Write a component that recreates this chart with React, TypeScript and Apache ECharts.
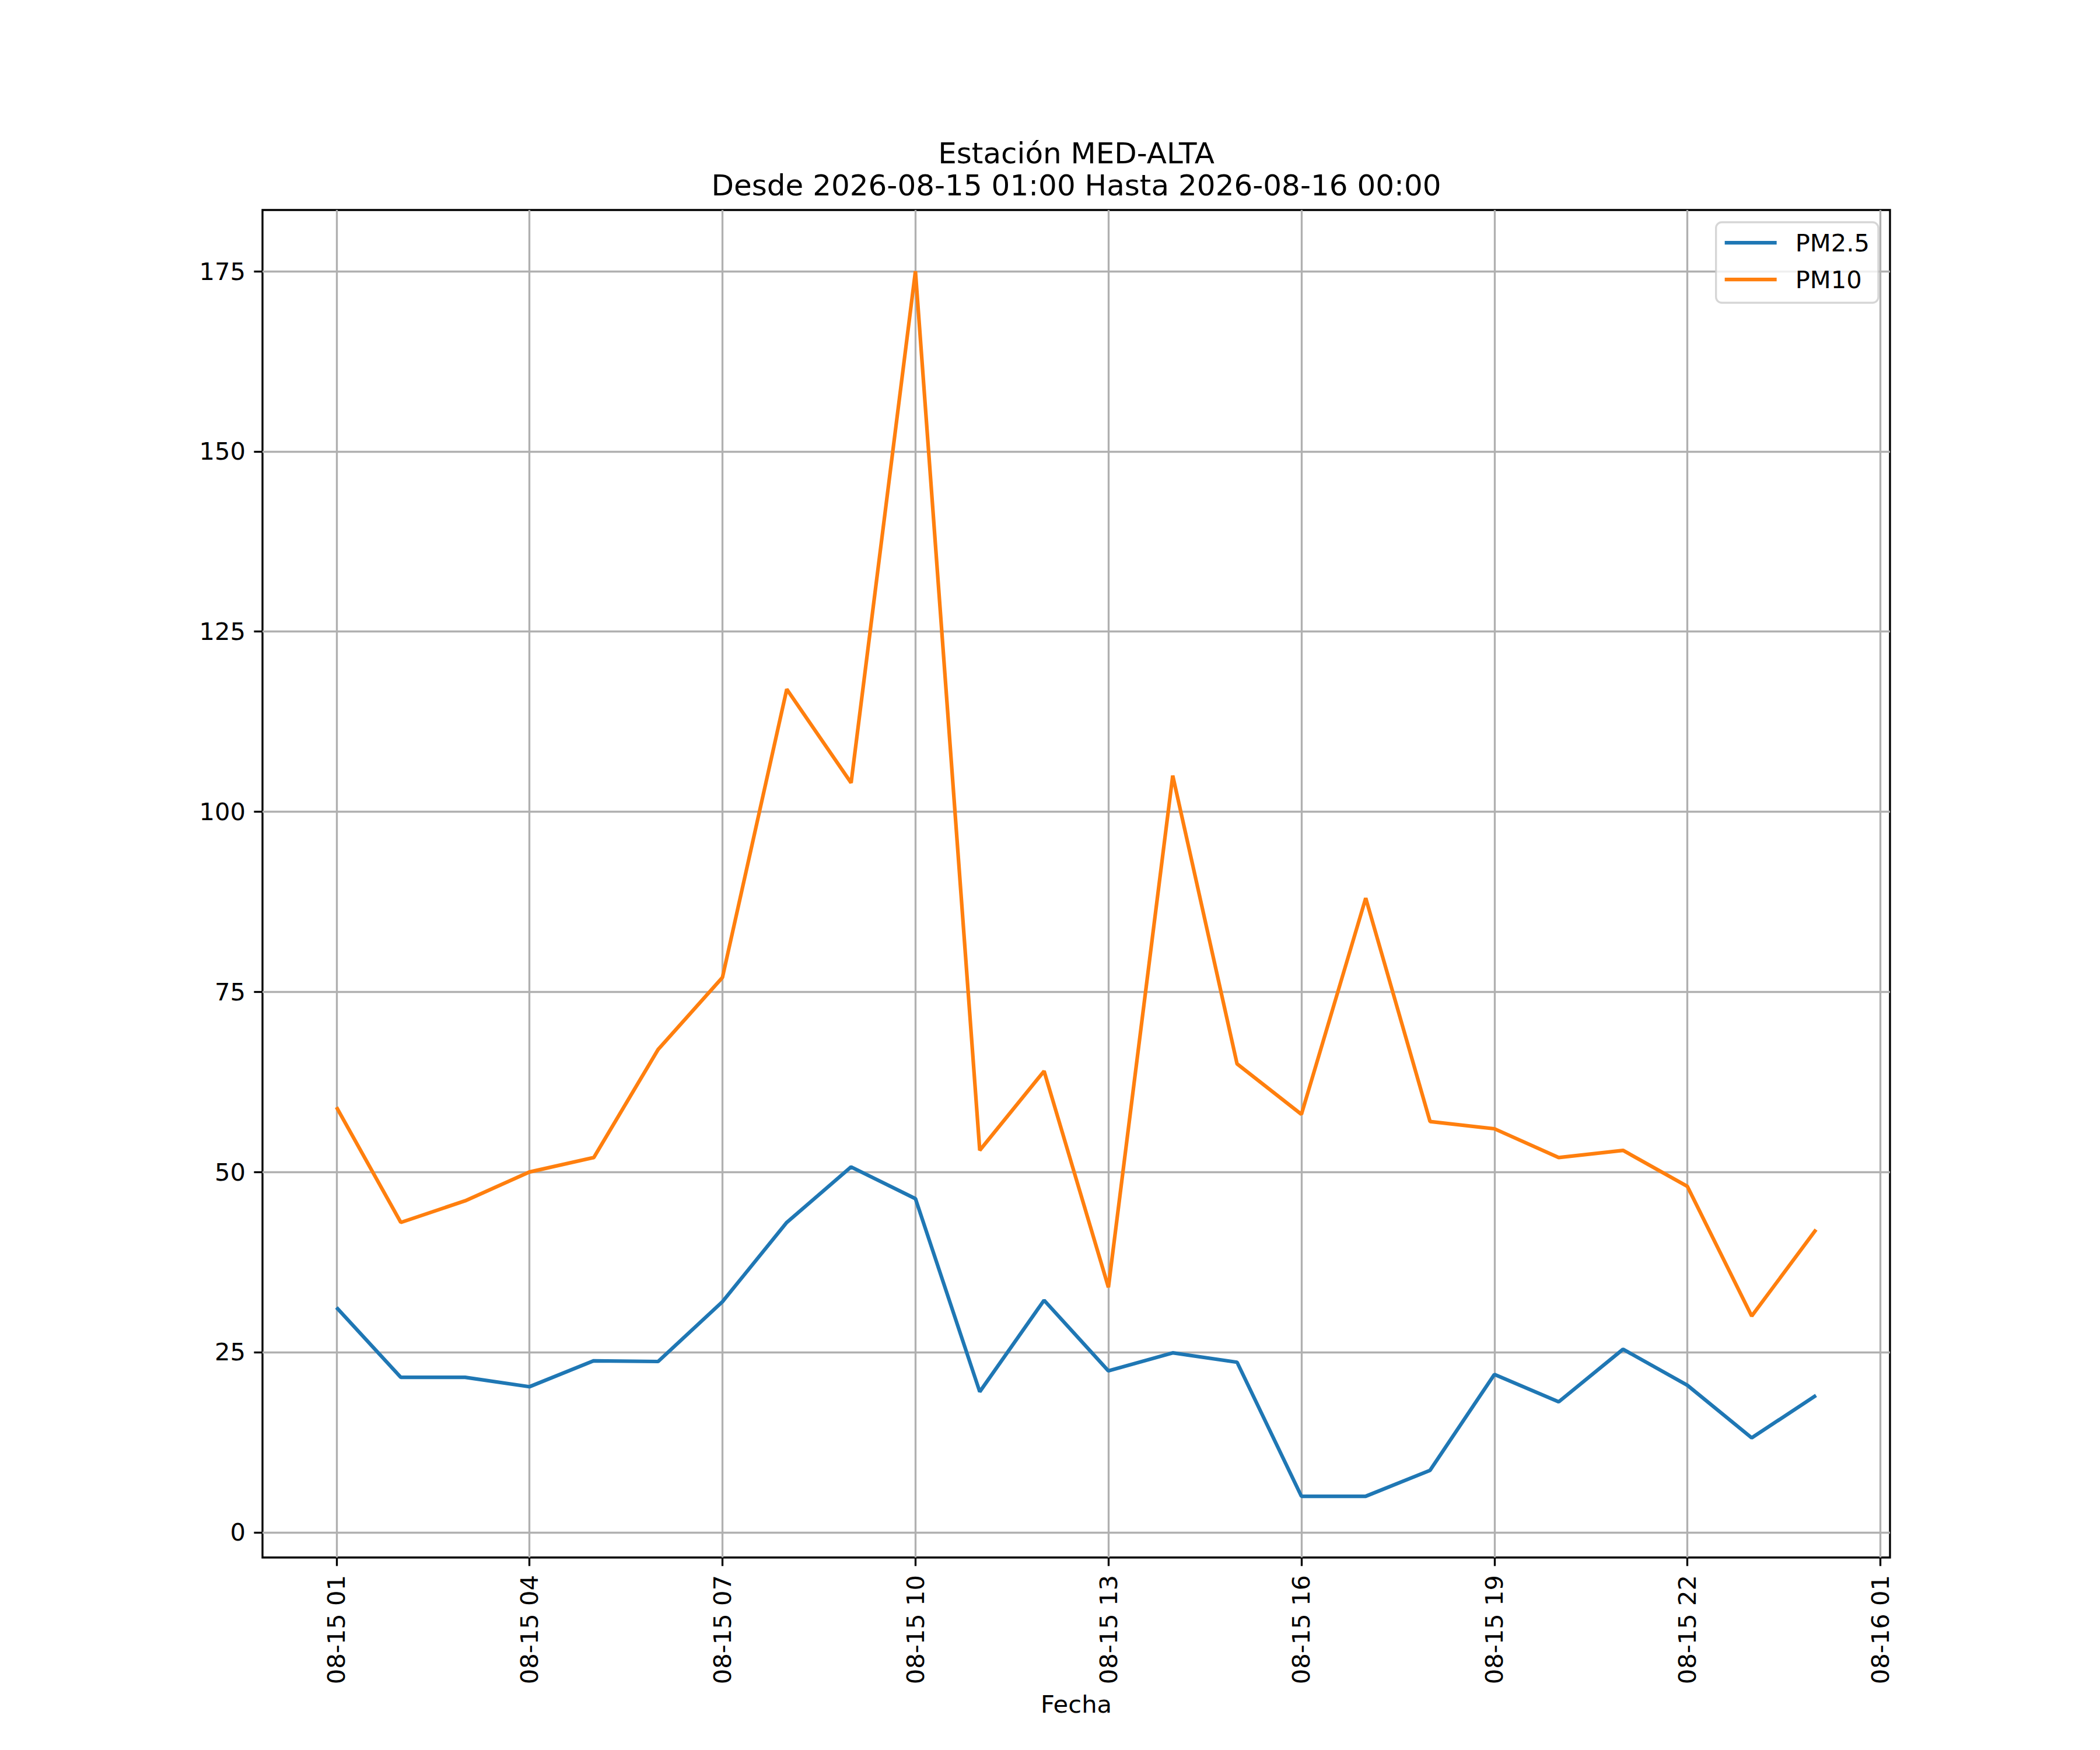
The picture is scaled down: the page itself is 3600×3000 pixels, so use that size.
import React, { useEffect, useRef } from 'react';
import * as echarts from 'echarts';

// Horas de medición (una por hora)
const horas = [
  '2026-08-15 01:00', '2026-08-15 02:00', '2026-08-15 03:00', '2026-08-15 04:00',
  '2026-08-15 05:00', '2026-08-15 06:00', '2026-08-15 07:00', '2026-08-15 08:00',
  '2026-08-15 09:00', '2026-08-15 10:00', '2026-08-15 11:00', '2026-08-15 12:00',
  '2026-08-15 13:00', '2026-08-15 14:00', '2026-08-15 15:00', '2026-08-15 16:00',
  '2026-08-15 17:00', '2026-08-15 18:00', '2026-08-15 19:00', '2026-08-15 20:00',
  '2026-08-15 21:00', '2026-08-15 22:00', '2026-08-15 23:00', '2026-08-16 00:00'
];

const pm25 = [
  31.2, 21.5, 21.5, 20.2, 23.8, 23.7, 32.0, 43.0, 50.7, 46.3, 19.5, 32.2,
  22.4, 24.9, 23.6, 5.0, 5.0, 8.6, 21.9, 18.1, 25.4, 20.4, 13.1, 19.0
];

const pm10 = [
  59, 43, 46, 50, 52, 67, 77, 117, 104, 175, 53, 64,
  34, 105, 65, 58, 88, 57, 56, 52, 53, 48, 30, 42
];

// Marcas del eje X
const ticksX = [
  '2026-08-15 01:00', '2026-08-15 04:00', '2026-08-15 07:00', '2026-08-15 10:00',
  '2026-08-15 13:00', '2026-08-15 16:00', '2026-08-15 19:00', '2026-08-15 22:00',
  '2026-08-16 01:00'
];

const ticksY = [0, 25, 50, 75, 100, 125, 150, 175];

const titulo = 'Estación MED-ALTA';
const subtitulo = 'Desde 2026-08-15 01:00 Hasta 2026-08-16 00:00';

// horas desde 2026-08-15 00:00
const aHoras = (s: string) =>
  (Number(s.slice(8, 10)) - 15) * 24 + Number(s.slice(11, 13));

const FONT = 'DejaVu Sans';
const PT = 300 / 72;

const App = () => {
  const chartRef = useRef<HTMLDivElement | null>(null);

  useEffect(() => {
    if (!chartRef.current) return;
    const chart = echarts.init(chartRef.current, null, { renderer: 'svg' });

    const xs = horas.map(aHoras);
    const tickHoras = ticksX.map(aHoras);
    const spanX = xs[xs.length - 1] - xs[0];
    const todos = [...pm25, ...pm10];
    const lo = Math.min(...todos);
    const hi = Math.max(...todos);
    const spanY = hi - lo;

    const tick = { show: true, length: 3.5 * PT, lineStyle: { color: '#000', width: 0.8 * PT } };
    const grid = { show: true, lineStyle: { color: '#b0b0b0', width: 0.8 * PT } };

    const option = {
      animation: false,
      textStyle: { fontFamily: FONT },
      grid: {
        left: 450, right: 360, top: 360, bottom: 330,
        show: true, borderColor: '#000', borderWidth: 0.8 * PT,
        backgroundColor: 'transparent'
      },
      graphic: [
        {
          type: 'text', x: 1845, y: 262.7, z: 10,
          style: { text: titulo, fontFamily: FONT, fontSize: 12 * PT, fill: '#000', align: 'center', verticalAlign: 'middle' }
        },
        {
          type: 'text', x: 1845, y: 317.7, z: 10,
          style: { text: subtitulo, fontFamily: FONT, fontSize: 12 * PT, fill: '#000', align: 'center', verticalAlign: 'middle' }
        }
      ],
      legend: {
        data: ['PM2.5', 'PM10'],
        orient: 'vertical',
        right: 380,
        top: 381,
        icon: 'rect',
        itemWidth: 89,
        itemHeight: 1.5 * PT,
        itemGap: 21,
        padding: [14, 15, 19, 15],
        backgroundColor: 'rgba(255,255,255,0.8)',
        borderColor: 'rgba(204,204,204,0.8)',
        borderWidth: 0.8 * PT,
        borderRadius: 10,
        textStyle: { fontFamily: FONT, fontSize: 10 * PT, lineHeight: 42, color: '#000', padding: [0, 0, 0, 27] }
      },
      xAxis: {
        type: 'value',
        min: xs[0] - 0.05 * spanX,
        max: xs[xs.length - 1] + 0.05 * spanX,
        name: 'Fecha',
        nameLocation: 'middle',
        nameGap: 230,
        nameTextStyle: { fontFamily: FONT, fontSize: 10 * PT, lineHeight: 42, color: '#000' },
        axisLine: { show: false, onZero: false },
        axisTick: { ...tick, customValues: tickHoras },
        splitLine: grid,
        axisLabel: {
          customValues: tickHoras,
          rotate: 90,
          margin: 30,
          fontFamily: FONT,
          fontSize: 10 * PT,
          color: '#000',
          formatter: (v: number) => {
            const i = tickHoras.indexOf(v);
            return i >= 0 ? ticksX[i].slice(5, 13) : '';
          }
        }
      },
      yAxis: {
        type: 'value',
        min: lo - 0.05 * spanY,
        max: hi + 0.05 * spanY,
        axisLine: { show: false, onZero: false },
        axisTick: { ...tick, customValues: ticksY },
        splitLine: grid,
        axisLabel: {
          customValues: ticksY,
          margin: 29,
          fontFamily: FONT,
          fontSize: 10 * PT,
          color: '#000',
          formatter: (v: number) => String(v)
        }
      },
      series: [
        {
          name: 'PM2.5',
          type: 'line',
          showSymbol: false,
          color: '#1f77b4',
          lineStyle: { color: '#1f77b4', width: 1.5 * PT },
          data: xs.map((x, i) => [x, pm25[i]])
        },
        {
          name: 'PM10',
          type: 'line',
          showSymbol: false,
          color: '#ff7f0e',
          lineStyle: { color: '#ff7f0e', width: 1.5 * PT },
          data: xs.map((x, i) => [x, pm10[i]])
        }
      ]
    };

    chart.setOption(option);
    return () => chart.dispose();
  }, []);

  return (
    <div
      ref={chartRef}
      style={{ position: 'absolute', left: 0, top: 0, width: '3600px', height: '3000px', background: '#fff' }}
    />
  );
};

export default App;
